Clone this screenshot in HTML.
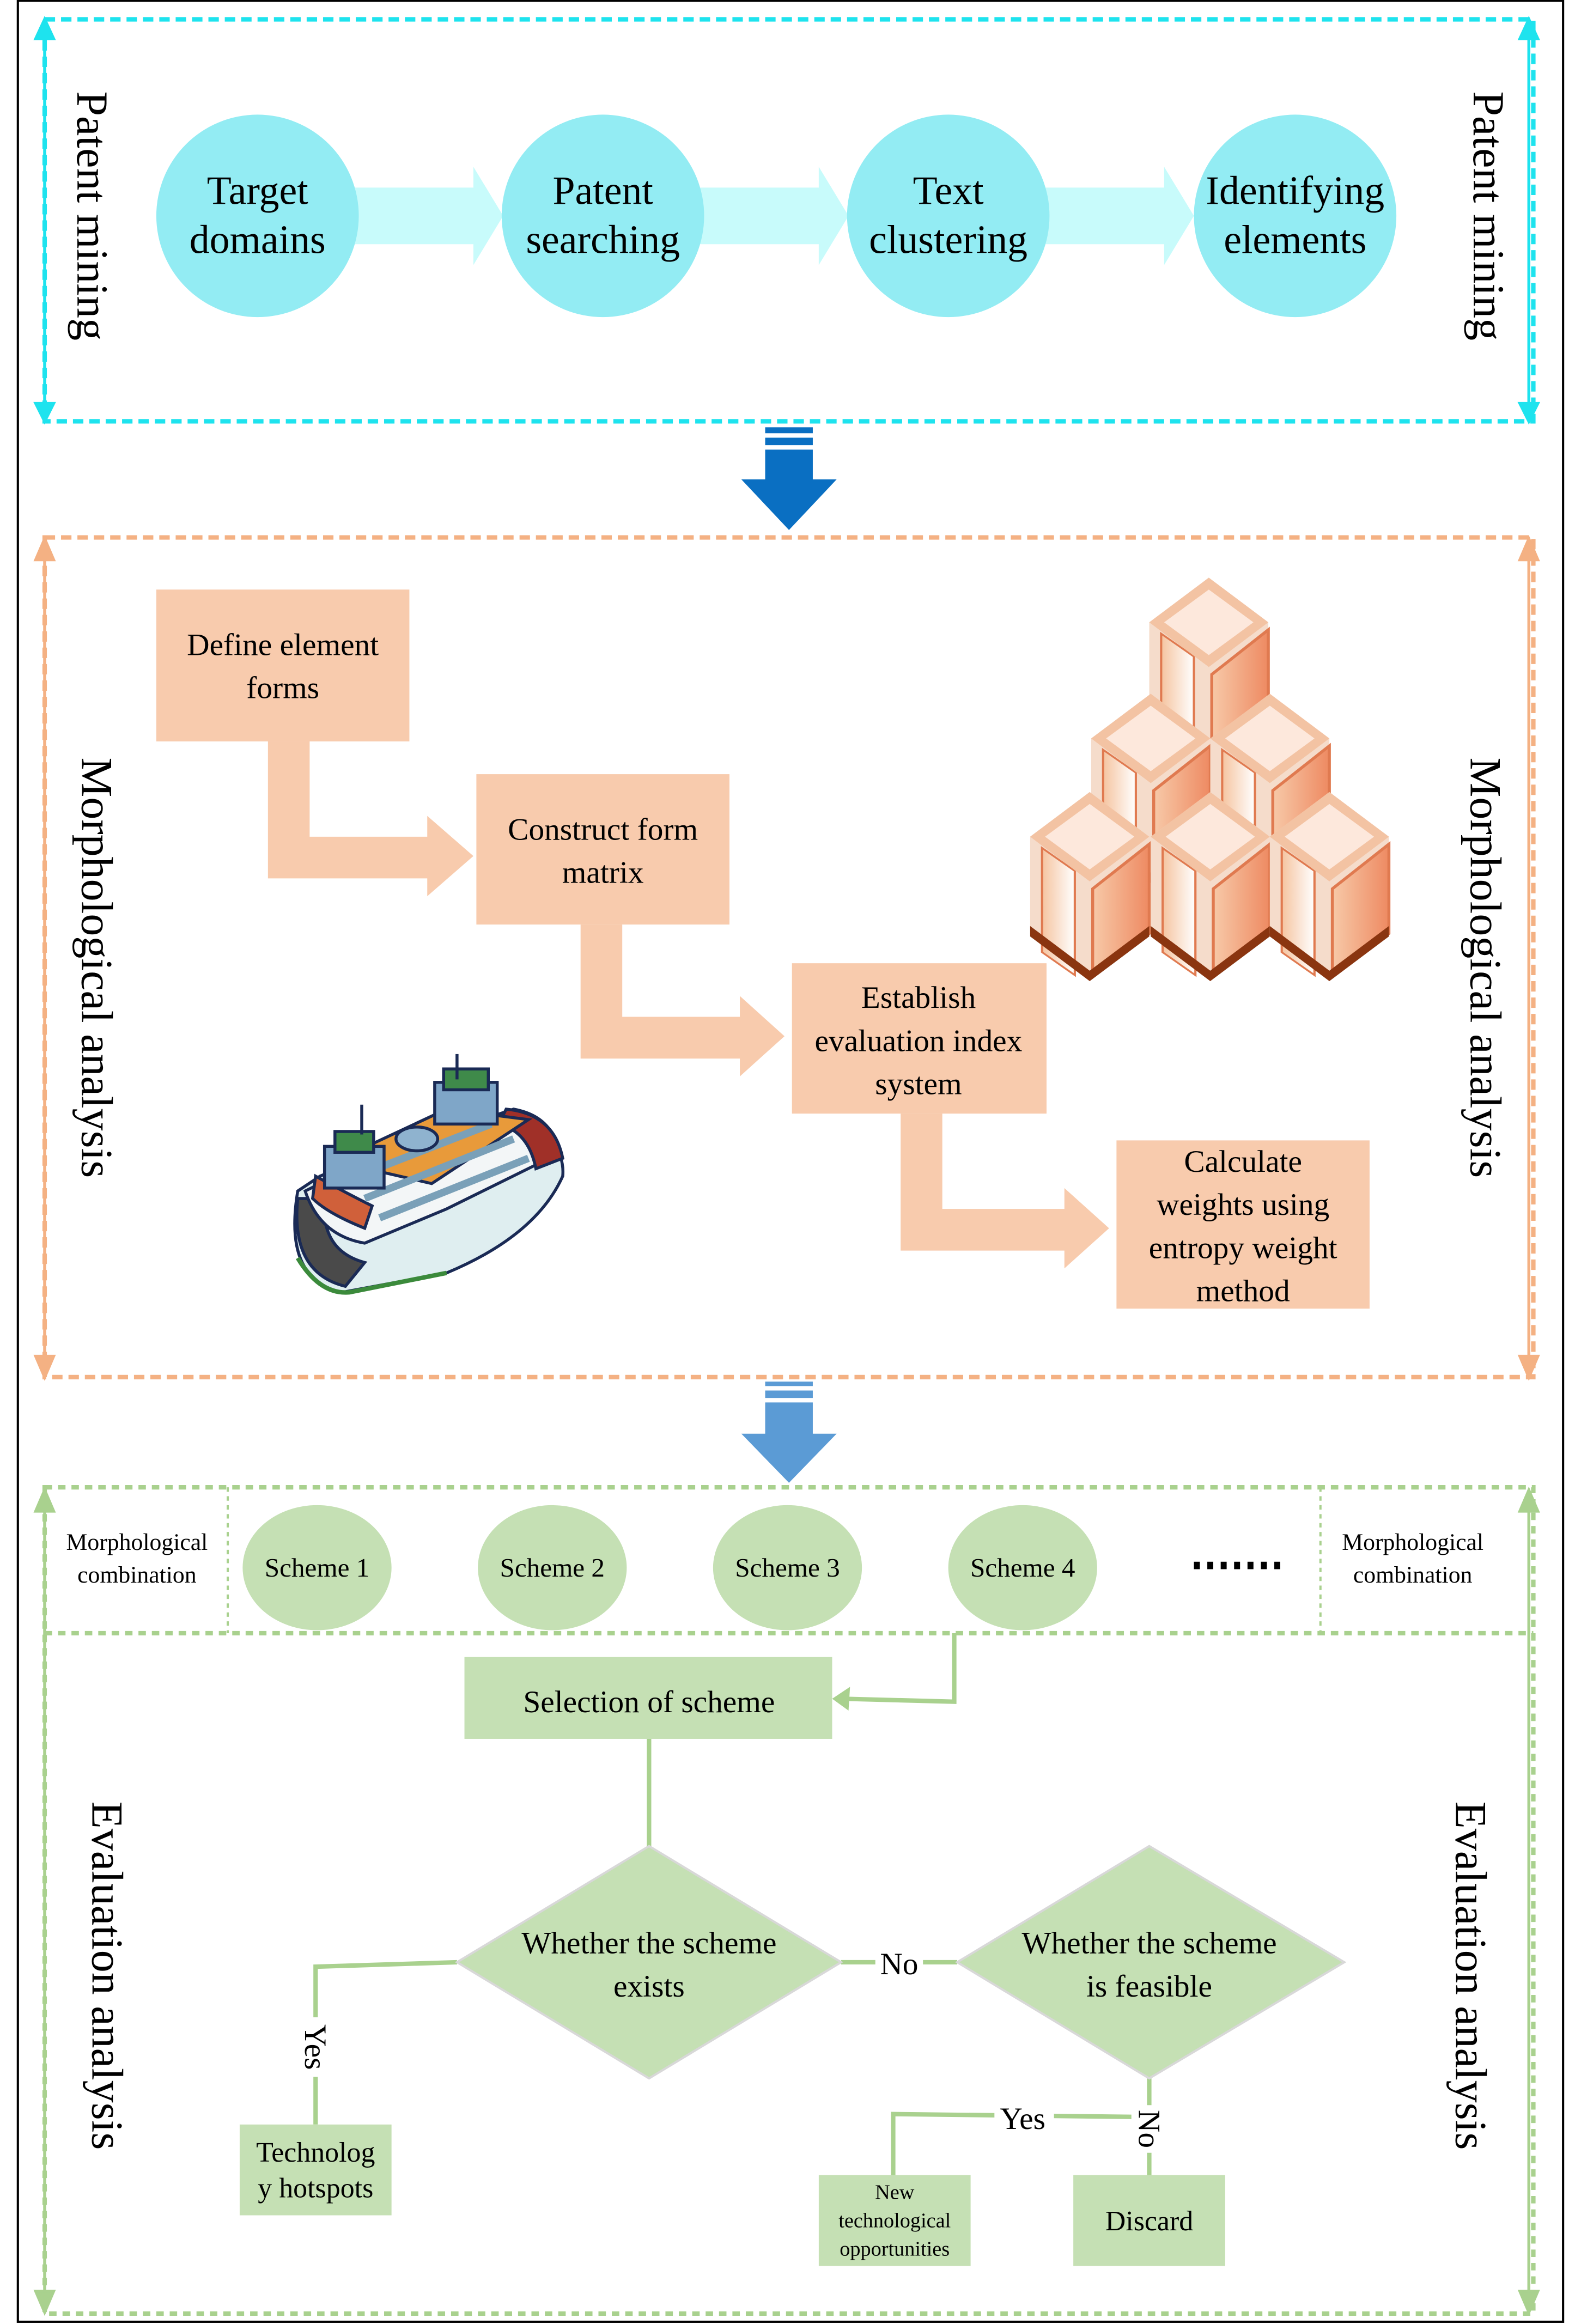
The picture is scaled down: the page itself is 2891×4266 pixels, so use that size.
<!DOCTYPE html>
<html><head><meta charset="utf-8"><style>
html,body{margin:0;padding:0;background:#fff}
svg{display:block}
text{font-family:"Liberation Serif","Times New Roman",serif;fill:#000}
</style></head><body>
<svg width="2891" height="4266" viewBox="0 0 1058 1561" preserveAspectRatio="none" xmlns="http://www.w3.org/2000/svg" font-family="Liberation Serif, serif">
<defs>
<linearGradient id="cr" x1="0" x2="1"><stop offset="0" stop-color="#f7c9a8"/><stop offset="1" stop-color="#ee8a62"/></linearGradient>
<linearGradient id="cr2" x1="0" x2="1"><stop offset="0" stop-color="#f5c4a0"/><stop offset="1" stop-color="#fff"/></linearGradient>
<g id="crate">
 <polygon points="0,30 40,0 80,30 80,95 40,125 0,95" fill="#f5dccb"/>
 <polygon points="42,65 80,35 80,95 42,122" fill="url(#cr)" stroke="#e07a50" stroke-width="2"/>
 <rect x="8" y="40" width="22" height="70" fill="url(#cr2)" stroke="#e07a50" stroke-width="1.5" transform="skewY(35) translate(0,-8)"/>
 <polygon points="0,30 40,0 80,30 40,60" fill="#f3c3a3"/>
 <polygon points="10,30 40,8 70,30 40,52" fill="#fde8dc"/>
 <polygon points="0,90 0,97 40,127 80,97 80,90 40,120" fill="#8a3510"/>
</g>
</defs>
<rect x="12" y="0.5" width="1038" height="1559" fill="none" stroke="#000" stroke-width="1.5"/>

<rect x="30" y="13" width="1000" height="270" fill="none" stroke="#1ee3ee" stroke-width="3" stroke-dasharray="7,4"/>
<g stroke="#1ee3ee" stroke-width="2" fill="#1ee3ee">
<line x1="30" y1="22" x2="30" y2="275"/><polygon points="24,26 36,26 30,13"/><polygon points="24,271 36,271 30,283"/>
<line x1="1027" y1="22" x2="1027" y2="275"/><polygon points="1021,26 1033,26 1027,13"/><polygon points="1021,271 1033,271 1027,283"/>
</g>
<text transform="translate(52,145) rotate(90)" font-size="30" text-anchor="middle">Patent mining</text>
<text transform="translate(990,145) rotate(90)" font-size="30" text-anchor="middle">Patent mining</text>
<g fill="#c8fbfb">
<polygon points="235,126 318,126 318,112 338,145 318,178 318,164 235,164"/>
<polygon points="467,126 550,126 550,112 570,145 550,178 550,164 467,164"/>
<polygon points="699,126 782,126 782,112 802,145 782,178 782,164 699,164"/>
</g>
<g fill="#93ecf3">
<circle cx="173" cy="145" r="68"/><circle cx="405" cy="145" r="68"/><circle cx="637" cy="145" r="68"/><circle cx="870" cy="145" r="68"/>
</g>
<g font-size="27" text-anchor="middle">
<text x="173" y="137">Target</text><text x="173" y="170">domains</text>
<text x="405" y="137">Patent</text><text x="405" y="170">searching</text>
<text x="637" y="137">Text</text><text x="637" y="170">clustering</text>
<text x="870" y="137">Identifying</text><text x="870" y="170">elements</text>
</g>

<g fill="#0a6fc2">
<rect x="514" y="287" width="32" height="4"/><rect x="514" y="294" width="32" height="5"/>
<polygon points="514,302 546,302 546,322 562,322 530,356 498,322 514,322"/>
</g>

<rect x="30" y="361" width="1000" height="564" fill="none" stroke="#f4b183" stroke-width="3" stroke-dasharray="7,4"/>
<g stroke="#f4b183" stroke-width="2" fill="#f4b183">
<line x1="30" y1="370" x2="30" y2="916"/><polygon points="24,376 36,376 30,362"/><polygon points="24,911 36,911 30,925"/>
<line x1="1027" y1="370" x2="1027" y2="916"/><polygon points="1021,376 1033,376 1027,362"/><polygon points="1021,911 1033,911 1027,925"/>
</g>
<text transform="translate(55,650) rotate(90)" font-size="30" text-anchor="middle">Morphological analysis</text>
<text transform="translate(988,650) rotate(90)" font-size="30" text-anchor="middle">Morphological analysis</text>
<g fill="#f8cbad">
<polygon points="180,498 208,498 208,562 287,562 287,548 318,575 287,602 287,590 180,590"/>
<polygon points="390,621 418,621 418,683 497,683 497,669 527,696 497,723 497,711 390,711"/>
<polygon points="605,748 633,748 633,812 715,812 715,798 745,825 715,852 715,840 605,840"/>
<rect x="105" y="396" width="170" height="102"/>
<rect x="320" y="520" width="170" height="101"/>
<rect x="532" y="647" width="171" height="101"/>
<rect x="750" y="766" width="170" height="113"/>
</g>
<g font-size="21" text-anchor="middle">
<text x="190" y="440">Define element</text><text x="190" y="469">forms</text>
<text x="405" y="564">Construct form</text><text x="405" y="593">matrix</text>
<text x="617" y="677">Establish</text><text x="617" y="706">evaluation index</text><text x="617" y="735">system</text>
<text x="835" y="787">Calculate</text><text x="835" y="816">weights using</text><text x="835" y="845">entropy weight</text><text x="835" y="874">method</text>
</g>
<use href="#crate" x="772" y="388"/>
<use href="#crate" x="733" y="466"/>
<use href="#crate" x="813" y="466"/>
<use href="#crate" x="692" y="532"/>
<use href="#crate" x="773" y="532"/>
<use href="#crate" x="853" y="532"/>
<g stroke="#1a2a55" stroke-width="2">
<path d="M200,800 Q190,860 230,868 L300,855 Q360,830 378,790 Q380,770 355,748 L300,755 L215,790 Z" fill="#dfeef0"/>
<path d="M200,805 Q195,855 232,864 L245,848 Q215,840 218,805 Z" fill="#4a4a4a"/>
<path d="M205,800 L255,775 L345,745 Q372,750 375,775 L300,812 L245,835 Q215,830 205,800 Z" fill="#f3f6f7"/>
<path d="M212,790 Q230,800 250,810 L245,825 Q220,815 210,805 Z" fill="#d0603a"/>
<path d="M340,745 Q372,748 378,778 L360,785 Q355,760 335,755 Z" fill="#a03028"/>
<path d="M225,780 L300,745 L355,752 L290,795 Z" fill="#e89a3a"/>
<path d="M240,790 L330,755 M245,805 L345,765 M255,818 L355,778" stroke="#7aa0b8" stroke-width="5"/>
<rect x="218" y="770" width="40" height="28" fill="#7fa6c8"/>
<rect x="292" y="727" width="42" height="28" fill="#7fa6c8"/>
<rect x="225" y="760" width="26" height="14" fill="#3f8a4a"/>
<rect x="298" y="718" width="30" height="14" fill="#3f8a4a"/>
<line x1="243" y1="742" x2="243" y2="762"/><line x1="307" y1="708" x2="307" y2="725"/>
<ellipse cx="280" cy="765" rx="14" ry="8" fill="#8fb3cf"/>
<path d="M200,845 Q215,870 235,868 L300,855" fill="none" stroke="#3b8a3b" stroke-width="3"/>
</g>

<g fill="#5b9bd5">
<rect x="514" y="928" width="32" height="3"/><rect x="514" y="934" width="32" height="5"/>
<polygon points="514,942 546,942 546,963 562,963 530,996 498,963 514,963"/>
</g>

<g fill="none" stroke="#a9d18e" stroke-width="3" stroke-dasharray="5,4">
<rect x="30" y="999" width="1000" height="555"/>
<line x1="30" y1="1097" x2="1030" y2="1097"/>
</g>
<g stroke="#a9d18e" stroke-width="1.5" stroke-dasharray="3,3">
<line x1="153" y1="999" x2="153" y2="1097"/><line x1="887" y1="999" x2="887" y2="1097"/>
</g>
<g stroke="#a9d18e" stroke-width="2" fill="#a9d18e">
<line x1="30" y1="1008" x2="30" y2="1546"/><polygon points="24,1015 36,1015 30,1001"/><polygon points="24,1539 36,1539 30,1553"/>
<line x1="1027" y1="1008" x2="1027" y2="1546"/><polygon points="1021,1015 1033,1015 1027,1001"/><polygon points="1021,1539 1033,1539 1027,1553"/>
</g>
<g font-size="16" text-anchor="middle">
<text x="92" y="1041">Morphological</text><text x="92" y="1063">combination</text>
<text x="949" y="1041">Morphological</text><text x="949" y="1063">combination</text>
</g>
<g fill="#c5e0b4">
<ellipse cx="213" cy="1053" rx="50" ry="42"/><ellipse cx="371" cy="1053" rx="50" ry="42"/>
<ellipse cx="529" cy="1053" rx="50" ry="42"/><ellipse cx="687" cy="1053" rx="50" ry="42"/>
</g>
<g font-size="18" text-anchor="middle">
<text x="213" y="1059">Scheme 1</text><text x="371" y="1059">Scheme 2</text>
<text x="529" y="1059">Scheme 3</text><text x="687" y="1059">Scheme 4</text>
</g>
<g fill="#000"><rect x="802" y="1049" width="4" height="5"/><rect x="811" y="1049" width="4" height="5"/><rect x="820" y="1049" width="4" height="5"/><rect x="829" y="1049" width="4" height="5"/><rect x="838" y="1049" width="4" height="5"/><rect x="847" y="1049" width="4" height="5"/><rect x="856" y="1049" width="4" height="5"/></g>
<text transform="translate(62,1327) rotate(90)" font-size="30" text-anchor="middle">Evaluation analysis</text>
<text transform="translate(978,1327) rotate(90)" font-size="30" text-anchor="middle">Evaluation analysis</text>

<g stroke="#a9d18e" stroke-width="3" fill="none">
<polyline points="641,1097 641,1143 565,1141"/>
<line x1="436" y1="1168" x2="436" y2="1242"/>
<polyline points="307,1318 212,1321 212,1427"/>
<line x1="565" y1="1318" x2="643" y2="1318"/>
<line x1="772" y1="1396" x2="772" y2="1461"/>
<polyline points="772,1422 600,1420 600,1461"/>
</g>
<polygon points="559,1141 571,1133 570,1149" fill="#a9d18e"/>
<g fill="#c5e0b4">
<rect x="312" y="1113" width="247" height="55"/>
<polygon points="436,1240 565,1318 436,1396 307,1318" stroke="#d8d8d8" stroke-width="1.5"/>
<polygon points="772,1240 903,1318 772,1396 643,1318" stroke="#d8d8d8" stroke-width="1.5"/>
<rect x="161" y="1427" width="102" height="61"/>
<rect x="550" y="1461" width="102" height="61"/>
<rect x="721" y="1461" width="102" height="61"/>
</g>
<rect x="588" y="1306" width="32" height="24" fill="#fff"/>
<rect x="200" y="1355" width="24" height="40" fill="#fff"/>
<rect x="668" y="1408" width="40" height="26" fill="#fff"/>
<rect x="760" y="1414" width="24" height="32" fill="#fff"/>
<g font-size="21" text-anchor="middle">
<text x="436" y="1150">Selection of scheme</text>
<text x="436" y="1312">Whether the scheme</text><text x="436" y="1341">exists</text>
<text x="772" y="1312">Whether the scheme</text><text x="772" y="1341">is feasible</text>
<text x="604" y="1326">No</text>
<text x="687" y="1430">Yes</text>
<text transform="translate(205,1375) rotate(90)" text-anchor="middle">Yes</text>
<text transform="translate(765,1430) rotate(90)" text-anchor="middle">No</text>
<text x="212" y="1452" font-size="19">Technolog</text><text x="212" y="1476" font-size="19">y hotspots</text>
<text x="772" y="1498" font-size="19">Discard</text>
<text x="601" y="1477" font-size="14">New</text><text x="601" y="1496" font-size="14">technological</text><text x="601" y="1515" font-size="14">opportunities</text>
</g>
</svg>
</body></html>
